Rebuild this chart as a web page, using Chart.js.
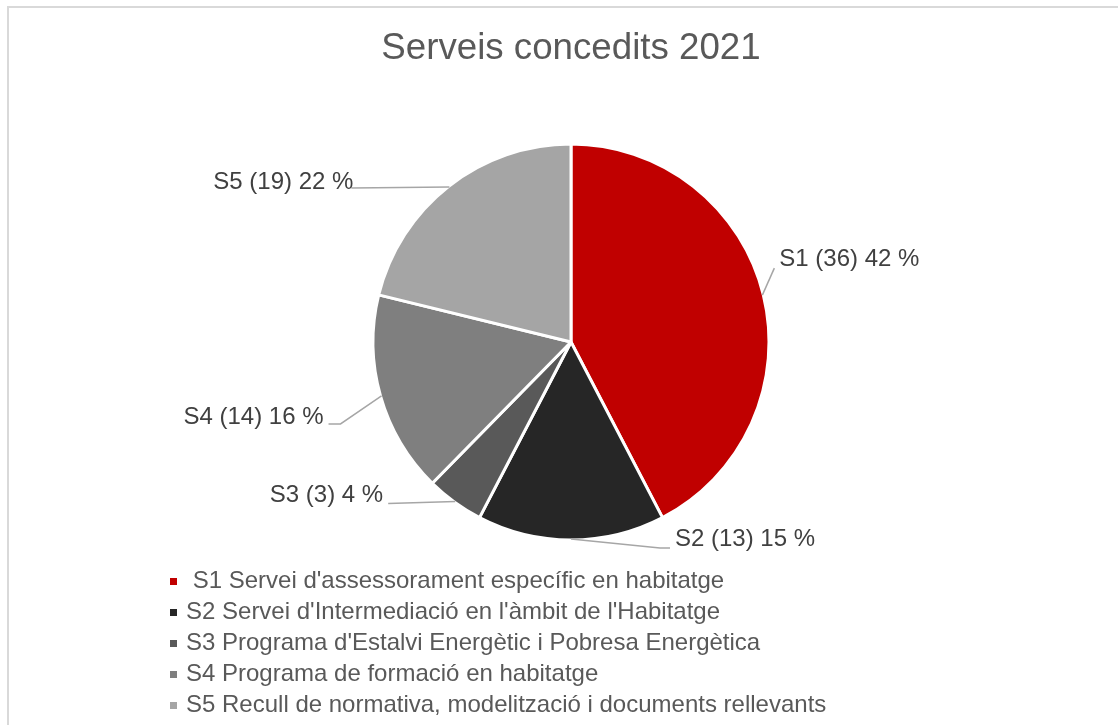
<!DOCTYPE html>
<html>
<head>
<meta charset="utf-8">
<title>Serveis concedits 2021</title>
<script src="https://cdn.jsdelivr.net/npm/chart.js@4.4.1/dist/chart.umd.min.js"></script>
<style>
  html, body { margin: 0; padding: 0; background: #ffffff; }
  #wrap { position: relative; width: 1118px; height: 725px; overflow: hidden; }
  #frame {
    position: absolute; left: 7px; top: 6px; right: -4px; bottom: -4px;
    border: 2px solid #d9d9d9; pointer-events: none;
  }
  #wrap canvas { position: absolute; left: 0; top: 0; }
</style>
</head>
<body>
<div id="wrap">
  <div id="frame"></div>
  <canvas id="pie" width="1118" height="725"></canvas>
</div>
<script>
// ---- data ----
const TITLE = 'Serveis concedits 2021';
const codes = ['S1', 'S2', 'S3', 'S4', 'S5'];
const legendNames = [
  " S1 Servei d'assessorament específic en habitatge",
  "S2 Servei d'Intermediació en l'àmbit de l'Habitatge",
  "S3 Programa d'Estalvi Energètic i Pobresa Energètica",
  "S4 Programa de formació en habitatge",
  "S5 Recull de normativa, modelització i documents rellevants"
];
// slice sizes as drawn in the picture
const sliceValues = [36, 13, 4, 14, 18];
// numbers printed in the data labels
const labelCounts = [36, 13, 3, 14, 19];
const labelPercents = [42, 15, 4, 16, 22];

const COLORS = {
  slices: ['#c00000', '#262626', '#595959', '#7f7f7f', '#a5a5a5'],
  title:  '#595959',
  label:  '#404040',
  legend: '#595959',
  leader: '#a6a6a6'
};
const FONT = "'Liberation Sans', Arial, sans-serif";

// label placement relative to each slice's edge point (elbow offset, tail length, text side)
const LABEL_LAYOUT = [
  { elbow: [12, -27],   tail: 0,   side: 'left',  tx: 5,  ty: -9 },
  { elbow: [89, 9],     tail: 10,  side: 'left',  tx: 5,  ty: -9 },
  { elbow: [-67, 2],    tail: 0,   side: 'right', tx: -5, ty: -8 },
  { elbow: [-41, 28],   tail: -12, side: 'right', tx: -5, ty: -7 },
  { elbow: [-98, 1],    tail: 0,   side: 'right', tx: 2,  ty: -6 }
];

// leader lines + outside labels
const outsideLabels = {
  id: 'outsideLabels',
  afterDatasetsDraw(chart) {
    const ctx = chart.ctx;
    const arcs = chart.getDatasetMeta(0).data;
    ctx.save();
    ctx.font = '24px ' + FONT;
    ctx.textBaseline = 'middle';
    arcs.forEach((arc, i) => {
      const p = arc.getProps(['x', 'y', 'startAngle', 'endAngle', 'outerRadius'], true);
      const mid = (p.startAngle + p.endAngle) / 2;
      const sx = p.x + Math.cos(mid) * (p.outerRadius - 1);
      const sy = p.y + Math.sin(mid) * (p.outerRadius - 1);
      const L = LABEL_LAYOUT[i];
      const ex = sx + L.elbow[0], ey = sy + L.elbow[1];
      const tx = ex + L.tail;
      ctx.strokeStyle = COLORS.leader;
      ctx.lineWidth = 1.5;
      ctx.beginPath();
      ctx.moveTo(sx, sy);
      ctx.lineTo(ex, ey);
      if (L.tail) ctx.lineTo(tx, ey);
      ctx.stroke();
      ctx.fillStyle = COLORS.label;
      ctx.textAlign = L.side;
      ctx.fillText(codes[i] + ' (' + labelCounts[i] + ') ' + labelPercents[i] + ' %', tx + L.tx, ey + L.ty);
    });
    ctx.restore();
  }
};

// vertical legend under the pie
const listLegend = {
  id: 'listLegend',
  afterDraw(chart) {
    const ctx = chart.ctx;
    const x0 = 170, y0 = 581.5, step = 31, box = 7;
    ctx.save();
    ctx.font = '24px ' + FONT;
    ctx.textBaseline = 'middle';
    ctx.textAlign = 'left';
    legendNames.forEach((name, i) => {
      const y = y0 + i * step;
      ctx.fillStyle = COLORS.slices[i];
      ctx.fillRect(x0, y - box / 2, box, box);
      ctx.fillStyle = COLORS.legend;
      ctx.fillText(name, x0 + 16, y);
    });
    ctx.restore();
  }
};

new Chart(document.getElementById('pie'), {
  type: 'pie',
  data: {
    labels: codes,
    datasets: [{
      data: sliceValues,
      backgroundColor: COLORS.slices,
      borderColor: '#ffffff',
      borderWidth: 3,
      radius: 198
    }]
  },
  options: {
    responsive: false,
    animation: false,
    layout: { padding: { left: 171, right: 147, top: 27, bottom: 112 } },
    plugins: {
      legend: { display: false },
      tooltip: { enabled: false },
      title: {
        display: true,
        text: TITLE,
        color: COLORS.title,
        font: { family: FONT, size: 36.7, weight: 'normal' },
        padding: 0
      }
    }
  },
  plugins: [outsideLabels, listLegend]
});
</script>
</body>
</html>
